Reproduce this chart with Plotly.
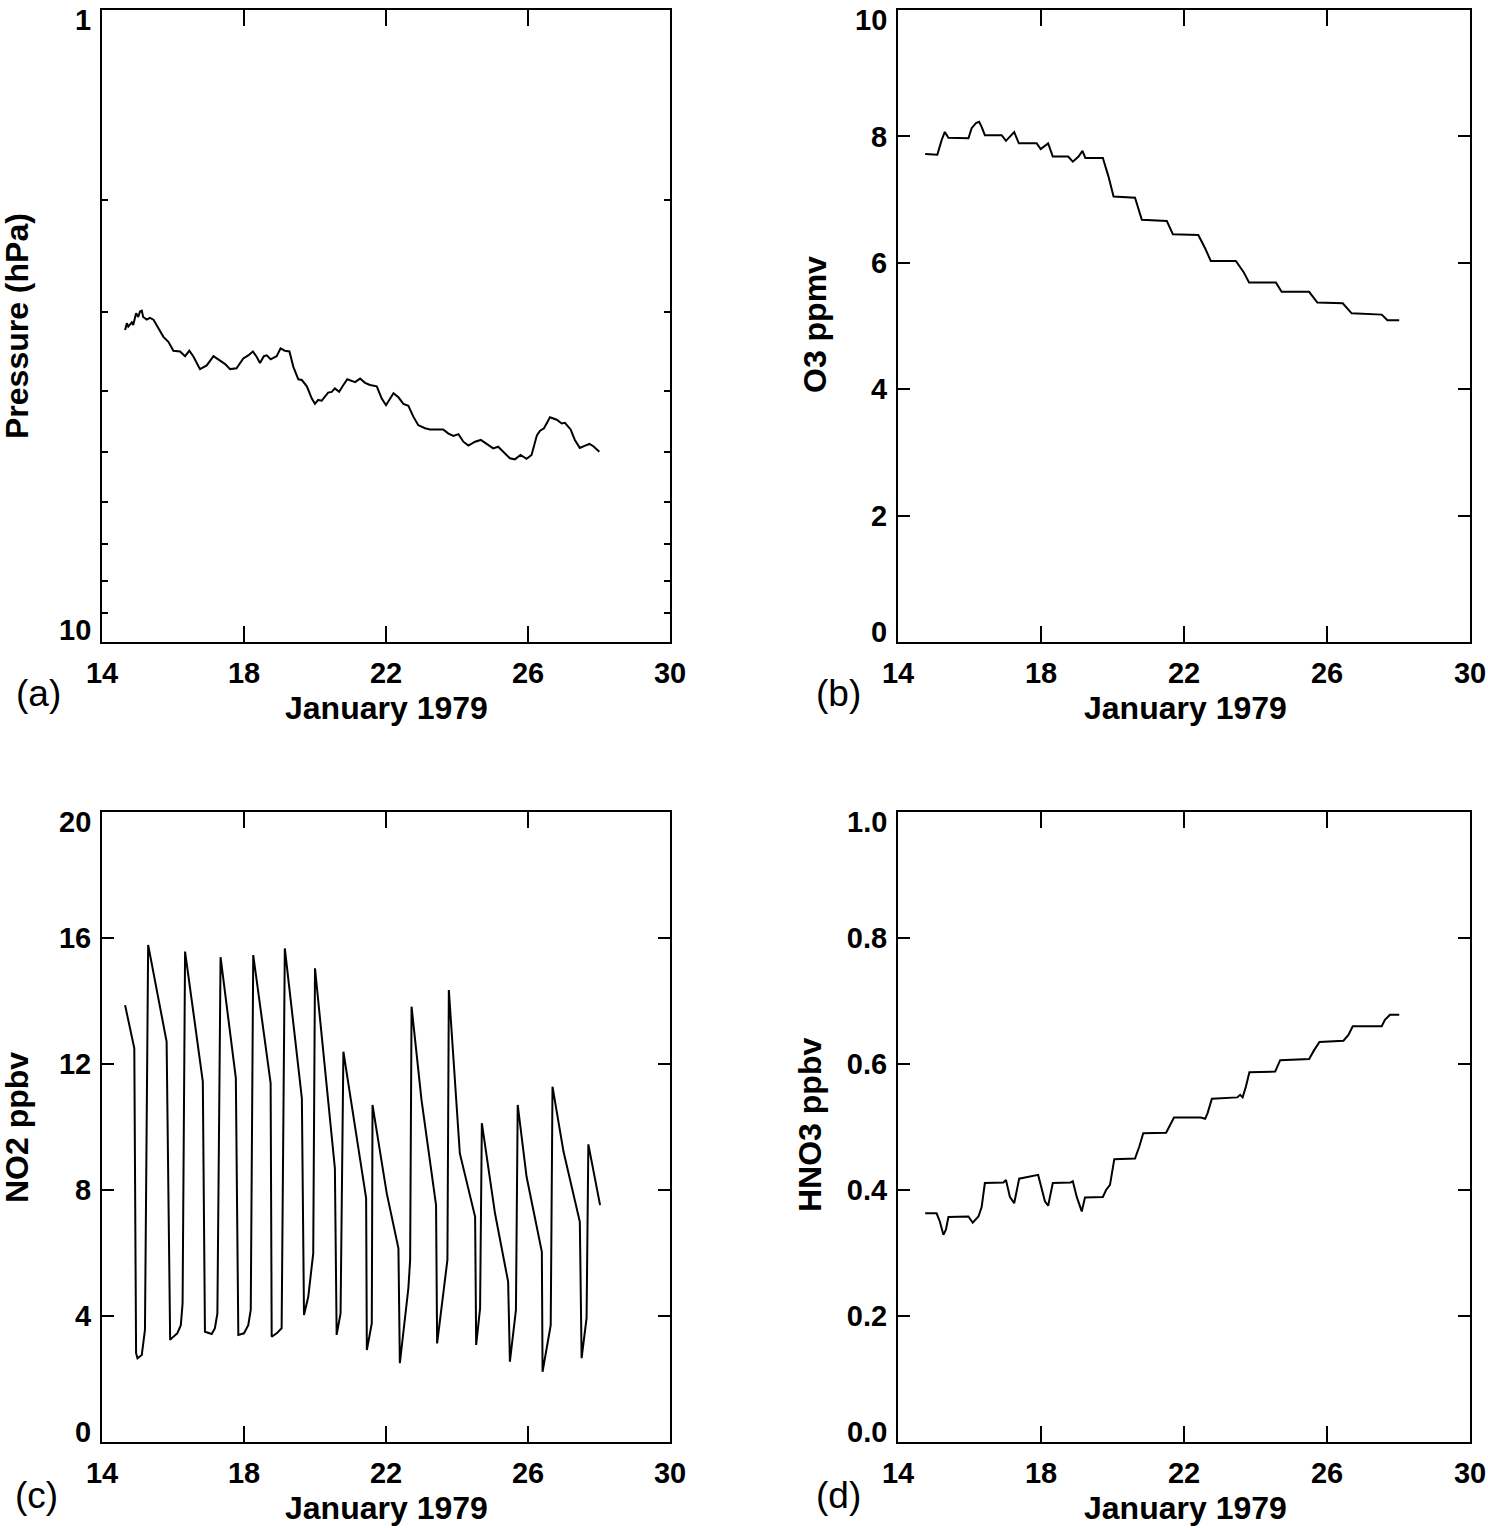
import math
import plotly.graph_objects as go

W, H = 1488, 1528

# ---- data (day of January 1979, value) ----
p_day = [14.65, 14.70, 14.74, 14.84, 14.88, 14.96, 15.02, 15.07, 15.12, 15.16,
         15.26, 15.35, 15.45, 15.59, 15.73, 15.87, 16.01, 16.20, 16.34, 16.46,
         16.57, 16.76, 16.95, 17.14, 17.32, 17.46, 17.61, 17.79, 17.98, 18.12,
         18.25, 18.36, 18.45, 18.56, 18.64, 18.75, 18.92, 19.03, 19.15, 19.28,
         19.39, 19.53, 19.63, 19.77, 19.91, 20.00, 20.09, 20.19, 20.37, 20.47,
         20.56, 20.68, 20.80, 20.91, 21.13, 21.27, 21.41, 21.55, 21.74, 21.88,
         22.00, 22.09, 22.21, 22.35, 22.49, 22.63, 22.77, 22.91, 23.10, 23.24,
         23.61, 23.76, 23.90, 24.04, 24.18, 24.32, 24.51, 24.67, 24.84, 25.02,
         25.16, 25.30, 25.49, 25.63, 25.79, 25.96, 26.10, 26.25, 26.34, 26.45,
         26.62, 26.81, 26.95, 27.04, 27.20, 27.32, 27.46, 27.61, 27.73, 27.84,
         28.01]
p_hpa = [3.21, 3.13, 3.17, 3.12, 3.15, 3.02, 3.06, 3.00, 2.99, 3.06,
         3.09, 3.07, 3.09, 3.19, 3.29, 3.35, 3.46, 3.47, 3.53, 3.46,
         3.53, 3.70, 3.65, 3.53, 3.58, 3.63, 3.70, 3.69, 3.56, 3.52,
         3.47, 3.54, 3.62, 3.53, 3.52, 3.57, 3.53, 3.43, 3.46, 3.47,
         3.67, 3.84, 3.85, 3.94, 4.12, 4.20, 4.14, 4.15, 4.03, 4.02,
         3.97, 4.02, 3.92, 3.84, 3.88, 3.83, 3.89, 3.92, 3.94, 4.12,
         4.22, 4.14, 4.04, 4.10, 4.20, 4.23, 4.40, 4.54, 4.59, 4.61,
         4.61, 4.68, 4.72, 4.69, 4.82, 4.89, 4.82, 4.79, 4.86, 4.94,
         4.91, 5.00, 5.12, 5.14, 5.06, 5.13, 5.06, 4.71, 4.63, 4.59,
         4.41, 4.45, 4.51, 4.50, 4.61, 4.79, 4.93, 4.89, 4.86, 4.90,
         5.00]

o3_day = [14.76, 15.10, 15.22, 15.31, 15.41, 15.97, 16.06, 16.18, 16.27, 16.34,
          16.43, 16.90, 17.02, 17.13, 17.25, 17.38, 17.88, 17.99, 18.11, 18.20,
          18.33, 18.76, 18.89, 19.05, 19.16, 19.24, 19.73, 19.89, 20.03, 20.63,
          20.82, 21.52, 21.69, 22.40, 22.59, 22.75, 23.45, 23.66, 23.82, 24.57,
          24.73, 25.50, 25.73, 26.44, 26.69, 27.53, 27.69, 28.02]
o3_ppmv = [7.72, 7.71, 7.94, 8.07, 7.98, 7.97, 8.13, 8.21, 8.23, 8.15,
           8.02, 8.02, 7.93, 8.00, 8.07, 7.89, 7.89, 7.80, 7.86, 7.89,
           7.68, 7.68, 7.60, 7.68, 7.77, 7.66, 7.66, 7.36, 7.05, 7.03,
           6.68, 6.66, 6.45, 6.44, 6.23, 6.03, 6.03, 5.86, 5.69, 5.69,
           5.54, 5.54, 5.37, 5.36, 5.20, 5.18, 5.09, 5.09]

no2_day = [14.65, 14.91, 14.96, 15.00, 15.12, 15.21, 15.30,
           15.82, 15.92, 15.96, 16.12, 16.22, 16.27, 16.34,
           16.84, 16.90, 17.09, 17.18, 17.25, 17.34,
           17.77, 17.84, 18.00, 18.12, 18.19, 18.26,
           18.75, 18.78, 18.92, 19.06, 19.15,
           19.63, 19.69, 19.81, 19.95, 20.00,
           20.56, 20.61, 20.72, 20.80,
           21.44, 21.46, 21.53, 21.60, 21.62,
           22.02, 22.35, 22.39, 22.63, 22.68, 22.72,
           23.00, 23.41, 23.44, 23.73, 23.77,
           24.08, 24.51, 24.54, 24.65, 24.70,
           25.07, 25.44, 25.49, 25.66, 25.71,
           25.96, 26.39, 26.41, 26.64, 26.69,
           27.00, 27.46, 27.51, 27.65, 27.70,
           28.03]
no2_ppbv = [13.87, 12.50, 2.82, 2.66, 2.76, 3.56, 15.78,
            12.71, 3.24, 3.29, 3.45, 3.71, 4.40, 15.57,
            11.44, 3.50, 3.43, 3.61, 4.08, 15.39,
            11.55, 3.40, 3.45, 3.71, 4.19, 15.46,
            11.39, 3.34, 3.45, 3.61, 15.67,
            10.91, 4.03, 4.61, 5.99, 15.04,
            8.69, 3.40, 4.08, 12.39,
            7.74, 2.92, 3.34, 3.77, 10.70,
            7.90, 6.15, 2.50, 4.88, 5.78, 13.82,
            10.86, 7.52, 3.13, 5.78, 14.35,
            9.16, 7.15, 3.08, 4.24, 10.12,
            7.26, 5.09, 2.55, 4.19, 10.70,
            8.42, 6.04, 2.23, 3.71, 11.28,
            9.22, 6.99, 2.66, 3.93, 9.45,
            7.52]

hno3_day = [14.76, 15.08, 15.17, 15.27, 15.34, 15.41, 15.97, 16.09, 16.25, 16.34,
            16.43, 16.95, 17.02, 17.13, 17.25, 17.39, 17.92, 17.97, 18.11, 18.20,
            18.33, 18.83, 18.89, 19.00, 19.14, 19.23, 19.73, 19.82, 19.93, 20.05,
            20.63, 20.75, 20.86, 21.50, 21.61, 21.72, 22.47, 22.59, 22.66, 22.78,
            23.49, 23.57, 23.64, 23.73, 23.83, 24.55, 24.69, 25.50, 25.64, 25.79,
            26.46, 26.60, 26.72, 27.53, 27.62, 27.76, 28.02]
hno3_ppbv = [0.363, 0.363, 0.350, 0.329, 0.337, 0.357, 0.358, 0.348, 0.358, 0.373,
             0.411, 0.412, 0.416, 0.389, 0.379, 0.418, 0.424, 0.413, 0.382, 0.375,
             0.411, 0.412, 0.414, 0.389, 0.366, 0.388, 0.389, 0.400, 0.408, 0.449,
             0.450, 0.469, 0.490, 0.491, 0.503, 0.515, 0.515, 0.513, 0.522, 0.545,
             0.547, 0.551, 0.547, 0.564, 0.587, 0.588, 0.606, 0.608, 0.622, 0.635,
             0.637, 0.646, 0.660, 0.660, 0.670, 0.678, 0.678]

day_ticks = [14, 18, 22, 26, 30]
p_ticks = [1, 10]
p_minor = [2, 3, 4, 5, 6, 7, 8, 9]
o3_ticks = [0, 2, 4, 6, 8, 10]
no2_ticks = [0, 4, 8, 12, 16, 20]
hno3_ticks = [0.0, 0.2, 0.4, 0.6, 0.8, 1.0]

FONT = "Liberation Sans, Arial, sans-serif"
tick_font = dict(family=FONT, size=29, color="black", weight="bold")
title_font = dict(family=FONT, size=32, color="black", weight="bold")
letter_font = dict(family=FONT, size=37, color="black")


def px_x(x):
    return x / W


def px_y(y):
    return 1 - y / H


def frame(**extra):
    ax = dict(showline=True, linecolor="black", linewidth=2, mirror="ticks",
              ticks="inside", tickwidth=2, tickcolor="black", automargin=False,
              showgrid=False, zeroline=False, tickfont=tick_font,
              ticklabeloverflow="allow")
    ax.update(extra)
    return ax


def inner_labels(vals, fmt):
    # the end labels are drawn separately, a little inside the frame
    return [""] + [fmt.format(v) for v in vals[1:-1]] + [""]


fig = go.Figure()

panels = [
    (p_day, p_hpa, "x", "y"),
    (o3_day, o3_ppmv, "x2", "y2"),
    (no2_day, no2_ppbv, "x3", "y3"),
    (hno3_day, hno3_ppbv, "x4", "y4"),
]
for xs, ys, xa, ya in panels:
    fig.add_trace(go.Scatter(x=xs, y=ys, xaxis=xa, yaxis=ya, mode="lines",
                             line=dict(color="black", width=2),
                             showlegend=False, hoverinfo="skip"))

# panel boxes in pixels: left, right, top, bottom
A = (102, 670, 10, 642)
B = (898, 1470, 10, 642)
C = (102, 670, 812, 1442)
D = (898, 1470, 812, 1442)


def xax(box, yname):
    l, r, t, b = box
    return frame(domain=[px_x(l), px_x(r)], range=[14, 30], tickvals=day_ticks,
                 ticklen=16, ticklabelstandoff=4, anchor=yname)


def ydom(box):
    l, r, t, b = box
    return [px_y(b), px_y(t)]


fig.update_layout(
    width=W, height=H,
    margin=dict(l=0, r=0, t=0, b=0),
    paper_bgcolor="white", plot_bgcolor="white",
    xaxis=xax(A, "y"),
    xaxis2=xax(B, "y2"),
    xaxis3=xax(C, "y3"),
    xaxis4=xax(D, "y4"),
    yaxis=frame(domain=ydom(A), anchor="x", type="log", range=[1, 0],
                tickvals=p_ticks, ticktext=["", ""], ticklen=12,
                ticklabelstandoff=3,
                minor=dict(tickvals=p_minor, ticks="inside", ticklen=6,
                           tickwidth=2, tickcolor="black", showgrid=False)),
    yaxis2=frame(domain=ydom(B), anchor="x2", range=[0, 10], tickvals=o3_ticks,
                 ticktext=inner_labels(o3_ticks, "{:d}"), ticklen=12,
                 ticklabelstandoff=3),
    yaxis3=frame(domain=ydom(C), anchor="x3", range=[0, 20], tickvals=no2_ticks,
                 ticktext=inner_labels(no2_ticks, "{:d}"), ticklen=12,
                 ticklabelstandoff=3),
    yaxis4=frame(domain=ydom(D), anchor="x4", range=[0, 1], tickvals=hno3_ticks,
                 ticktext=inner_labels(hno3_ticks, "{:.1f}"), ticklen=12,
                 ticklabelstandoff=3),
)


def note(text, x, y, font, angle=0):
    fig.add_annotation(text=text, x=px_x(x), y=px_y(y), xref="paper", yref="paper",
                       xanchor="center", yanchor="middle", showarrow=False,
                       font=font, textangle=angle)


def end_label(text, box, yref, yval, shift):
    fig.add_annotation(text=text, x=px_x(box[0] - 9), xref="paper", xanchor="right",
                       y=yval, yref=yref, yanchor="middle", yshift=shift,
                       height=26, showarrow=False, font=tick_font)


# end labels of the y axes, nudged into the frame as in the original
end_label("1", A, "y", math.log10(p_ticks[0]), -10)
end_label("10", A, "y", math.log10(p_ticks[-1]), 12)
end_label("10", B, "y2", o3_ticks[-1], -10)
end_label("0", B, "y2", o3_ticks[0], 10)
end_label("20", C, "y3", no2_ticks[-1], -10)
end_label("0", C, "y3", no2_ticks[0], 10)
end_label("1.0", D, "y4", hno3_ticks[-1], -10)
end_label("0.0", D, "y4", hno3_ticks[0], 10)

# axis titles
for cx, cy in [(386, 708), (1185, 708), (386, 1508), (1185, 1508)]:
    note("January 1979", cx, cy, title_font)
note("Pressure (hPa)", 17, 326, title_font, -90)
note("O3 ppmv", 815, 325, title_font, -90)
note("NO2 ppbv", 17, 1128, title_font, -90)
note("HNO3 ppbv", 810, 1125, title_font, -90)

# panel letters
note("(a)", 38, 693, letter_font)
note("(b)", 838, 693, letter_font)
note("(c)", 36, 1495, letter_font)
note("(d)", 838, 1495, letter_font)

# drop the page's default body margin so the figure fills the window
fig.write_html("out.html", config={"displayModeBar": False},
               post_script="document.body.style.margin = '0';")
